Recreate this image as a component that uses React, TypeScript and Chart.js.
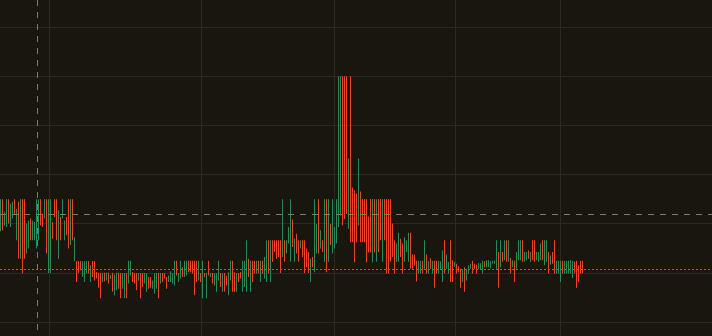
import { useEffect, useRef } from "react";
import { Chart, registerables } from "chart.js";

Chart.register(...registerables);

// ---- data (price units; one candle per session) ----
const OPEN = [
  19, 24.5, 20, 20, 24, 20, 21.5, 24.5, 17, 24,
  16, 24.5, 24.5, 14.5, 15.5, 21, 17, 17, 15.5, 17,
  24.5, 22, 21.5, 24.5, 12, 10.5, 20, 24.5, 24.5, 13,
  21, 21.5, 17, 21, 24.5, 16, 24.5, 12.8, 12.4, 12.4,
  12.4, 9.6, 9, 10.2, 12.4, 8.5, 12.4, 12.4, 10.2, 10,
  10, 8.5, 10, 8.8, 10, 8.9, 10, 6, 7, 10,
  10, 7, 5.5, 10, 8.5, 10, 10.2, 10, 9.8, 8.8,
  10, 9.8, 8.2, 6.5, 9.2, 9.2, 7, 6, 7, 10,
  8, 10, 10, 9.2, 8.4, 8.5, 8.2, 8, 12.4, 8.5,
  9.2, 11, 9.5, 9.8, 12.4, 12.4, 12.4, 12.4, 12.4, 9,
  10, 9, 10, 6, 12.4, 9.3, 10, 8, 6.5, 9,
  10, 6.5, 10, 9.4, 6, 9, 12.4, 10, 6.5, 10,
  10.2, 6.5, 7.5, 6.5, 12.8, 6.5, 12.4, 12.4, 10, 12.4,
  8.5, 12.4, 9, 8.5, 16.5, 8.5, 16.5, 16.5, 16.5, 16.5,
  16.5, 14, 16.5, 14.2, 16.2, 12.5, 20.5, 12.5, 17.8, 16.5,
  15.2, 16.5, 16.5, 14.8, 14, 8.5, 13, 12.4, 14.2, 24.8,
  15.2, 16.5, 12.5, 24.8, 12.5, 19.8, 14.3, 15.2, 16.2, 21,
  23, 50, 50, 50, 24, 50, 27, 26.5, 26, 20,
  26, 25, 25, 25, 21, 25, 12.5, 25, 12.5, 25,
  25, 12.5, 25, 25, 25, 25, 20, 16.5, 12.5, 12.8,
  16.8, 15.8, 12.5, 14.5, 12.5, 18, 13.5, 13.5, 12.5, 10,
  10.2, 12.4, 11, 13.6, 10, 12.8, 10, 12.4, 12.4, 10,
  11, 8.5, 16.5, 11, 10, 16.5, 12.5, 11.4, 11.8, 11.2,
  10.8, 8.5, 11, 8.8, 10, 11, 12.4, 11.8, 11.5, 10.9,
  10.9, 10, 12.3, 11.3, 11.3, 11.1, 12, 12, 11, 14,
  11.3, 14, 12.7, 16.5, 12.4, 13, 11.3, 12.4, 11, 12.7,
  12.7, 16.5, 12.4, 12.7, 14.5, 12.4, 16.5, 16.5, 12.7, 12.4,
  12.7, 16.5, 11.7, 12.4, 14.2, 11.8, 14.2, 16.5, 10, 10,
  10, 12.4, 10, 10, 10, 10, 9.2, 12.2, 12.4, 11.5, 12.4, 12.4,
];
const HIGH = [
  25, 25, 22.4, 25, 25, 24.1, 24.5, 25, 23.1, 24.5,
  25, 25, 25, 20.1, 20.7, 21.1, 20.7, 20.4, 25, 25,
  25, 22.1, 25, 25, 25, 25, 20.4, 25, 25, 22.8,
  21.4, 25, 20.7, 21.4, 25, 25, 25, 17.3, 12.4, 12.4,
  12.4, 12.4, 12.4, 12.4, 12.4, 11.6, 12.4, 12.4, 10.2, 10.1,
  10.1, 10.1, 10.1, 10.1, 10.1, 9.6, 10.1, 9.7, 10.1, 10.1,
  10, 10, 10, 10, 12.5, 12.5, 10.2, 10, 10, 10,
  10, 10, 10, 10, 9.2, 9.2, 8.5, 10, 10, 10,
  10, 10, 10, 9.2, 9.5, 10.4, 10, 12.5, 12.5, 10,
  12.5, 11.2, 12.5, 12.5, 12.5, 12.5, 12.5, 12.5, 12.5, 12.5,
  10, 12.5, 10, 10, 12.5, 10, 10, 10, 10, 12.5,
  10, 10, 10, 9.5, 10.2, 12.5, 12.5, 10.2, 10, 10,
  10.2, 12.5, 12.5, 16.7, 12.9, 12.5, 12.5, 12.5, 12.5, 12.5,
  12.5, 12.5, 13.3, 16.7, 16.7, 16.7, 16.7, 16.7, 16.7, 16.7,
  16.7, 25, 16.7, 16.7, 19.4, 25, 20.9, 17, 18, 16.7,
  16.7, 16.7, 16.7, 15, 14.3, 12.9, 13.3, 25, 20, 25,
  18.7, 16.7, 25, 25, 25, 20, 25, 19.4, 25, 50,
  50, 50, 50, 50, 33.3, 50, 27.4, 26.8, 26.2, 33.3,
  26.6, 25, 25, 25, 21.5, 25, 25, 25, 25, 25,
  25, 25, 25, 25, 25, 25, 20.1, 16.7, 16, 18.2,
  17, 16, 17.3, 16.7, 18.2, 18.2, 13.8, 13.8, 12.5, 12.5,
  12.5, 12.5, 16.7, 13.8, 12.5, 13, 12.5, 12.5, 12.5, 12.5,
  12.4, 14.6, 16.7, 13.8, 12.3, 16.7, 12.6, 12.3, 11.9, 11.4,
  10.9, 10.8, 11.2, 10.9, 11.6, 11.9, 12.5, 11.9, 11.7, 12,
  12, 12.5, 12.4, 12.6, 12.6, 12.4, 12.5, 12.5, 16.7, 14.3,
  16.7, 14.3, 16.7, 16.7, 16.7, 13.1, 12.6, 12.5, 14.3, 16.7,
  16.7, 16.7, 14.3, 14.3, 14.6, 14.3, 16.7, 16.7, 14.3, 14.3,
  16, 16.7, 16.7, 16.7, 14.3, 13.6, 14.3, 16.7, 12.5, 12.5,
  12.5, 12.5, 12.5, 12.5, 12.5, 12.6, 12.5, 12.3, 12.5, 11.6, 12.5, 12.5,
];
const LOW = [
  18.5, 18.7, 19.7, 19.4, 20.1, 19.4, 21.1, 21.8, 16.7, 12.9,
  12.9, 9.9, 12.9, 14, 15, 16.7, 16.7, 16.7, 15, 16.7,
  19.7, 19.4, 21.1, 14, 10, 10, 17, 21.4, 16.7, 12.9,
  16.7, 21.1, 16.7, 17.7, 15, 15.7, 16.7, 12.4, 8.2, 10,
  10.6, 9.2, 8.2, 9.9, 9.9, 8.2, 9.2, 8.5, 8.9, 7,
  4.9, 8.2, 8.3, 8.5, 7.9, 8.8, 6.2, 5.5, 6.5, 6.8,
  4.9, 6.8, 4.9, 4.9, 7.9, 9.5, 8.2, 7.9, 6.5, 8.5,
  4.9, 7.2, 7.9, 6.2, 6.8, 7, 6.8, 5.8, 6.8, 4.9,
  7.9, 8.2, 8.9, 6.8, 8.2, 8.2, 7.9, 7.5, 9.5, 8.2,
  8.9, 9.2, 9.2, 9.5, 10.2, 10.2, 9.9, 5.5, 8.2, 8.5,
  8.2, 4.9, 9.2, 4.9, 9.5, 9.2, 7.9, 7.5, 6.2, 8.5,
  7.2, 6.2, 6.2, 7.5, 5.5, 8.5, 6.2, 6.2, 6.2, 8.2,
  8.9, 6.2, 7.2, 6.2, 9.2, 6.2, 8.2, 9.9, 9.9, 9.9,
  8.2, 9.9, 8.9, 8.2, 9.9, 8.2, 12.3, 14.3, 12.9, 13.3,
  10, 13.3, 12.3, 14, 16, 12.3, 15.3, 12.3, 14, 12.3,
  15, 13.3, 10, 11.2, 10, 8.2, 11.2, 10.2, 14, 14,
  15, 14.3, 12.3, 10.2, 12.3, 15.7, 14, 15, 16, 19.4,
  21.7, 19.7, 21, 22, 19, 16.3, 16.3, 12.2, 16.3, 19.7,
  16.3, 16.3, 16.3, 12.2, 14.2, 14.2, 12.2, 14.2, 12.3, 14.3,
  16.7, 12.3, 16.7, 9.9, 9.9, 12.3, 13.3, 9.9, 12.3, 12.3,
  13.3, 9.9, 12.3, 14.3, 12.3, 10.9, 10.9, 11.5, 8.3, 9.9,
  9.9, 9.9, 10.9, 9.9, 9.9, 10.9, 9.9, 7, 9.9, 9.9,
  10.9, 8.2, 9.9, 10.9, 9.9, 8.2, 8.2, 11.3, 9.9, 10.2,
  7, 8.2, 6.2, 8.5, 9.9, 10.9, 9.9, 10.9, 9.9, 10.8,
  10.8, 9.9, 11.2, 11.2, 11.2, 11, 11.9, 11.9, 10.9, 7,
  11.2, 12.3, 12.6, 12.3, 12.3, 9.9, 11.2, 8.2, 10.9, 12.6,
  12.6, 12.3, 12.3, 12.6, 12.9, 12.3, 12.6, 12.3, 12.6, 12.3,
  12.6, 12.6, 11.6, 12.3, 9.9, 11.7, 11.9, 9.9, 9.9, 9.9,
  8.2, 9.9, 9.9, 9.9, 9.9, 9.9, 9, 9.9, 7, 8.2, 9.9, 9.9,
];
const CLOSE = [
  24, 19.5, 22, 24.5, 20.5, 23.5, 24, 22, 22.5, 16.7,
  24.5, 12.9, 13, 19.5, 20.5, 17, 20.5, 20, 24.5, 24.5,
  20, 19.5, 24.5, 14.5, 24.5, 24.5, 17.5, 21.5, 17, 22.5,
  17, 24.5, 20.5, 18, 15.5, 24.5, 17, 16.7, 10.5, 10.8,
  11, 12.2, 12, 12.4, 10.5, 11.2, 9.5, 9, 9.2, 7.5,
  6.5, 10, 8.5, 10, 8.2, 9.5, 6.8, 9.5, 10, 7.2,
  6, 9.8, 9.8, 5.5, 12.2, 12.4, 8.5, 8.5, 7, 10,
  5.5, 7.5, 10, 9.8, 7, 7.2, 8.2, 9.5, 9.8, 5.5,
  10, 8.5, 9, 7, 9.4, 10.2, 10, 12.2, 9.8, 10,
  12.4, 9.4, 12.4, 12.4, 10.4, 10.4, 10.2, 9.5, 9, 12.4,
  8.5, 12.4, 9.4, 9.8, 9.8, 10, 8.2, 10, 9.8, 12.4,
  7.5, 9.8, 6.5, 7.8, 10, 12.4, 7, 6.5, 9.8, 8.5,
  9, 12.4, 12.4, 16.5, 9.5, 12.4, 8.5, 10, 12.4, 10,
  12.4, 10, 13, 16.5, 10.2, 16.5, 12.5, 14.5, 13, 13.5,
  12.4, 16.7, 12.5, 16.5, 16.7, 16.7, 15.5, 16.7, 14.3, 12.5,
  16.5, 13.5, 12.4, 11.5, 12.4, 12.4, 11.5, 16.7, 16.7, 16.7,
  16.7, 14.5, 16.7, 12.4, 24.8, 16, 24.8, 19.2, 24.8, 48,
  50, 24.8, 24.8, 25, 26, 18, 22, 16.7, 16.7, 25,
  17, 16.7, 16.7, 13, 15, 15, 25, 16.7, 24.5, 15,
  17, 25, 18.7, 12.3, 12.3, 13, 13.5, 11, 15.5, 18,
  13.5, 11, 17, 16.5, 18, 12.5, 11.2, 11.8, 10, 12.3,
  12.4, 10.2, 16.5, 10.2, 12.4, 11.2, 12.4, 10, 10, 12.4,
  12.2, 14.3, 10.2, 13.5, 12, 8.5, 8.5, 12, 10.2, 10.4,
  7.5, 10.6, 6.5, 10.6, 11.4, 11.8, 10.2, 11, 10.2, 11.8,
  11.9, 12.4, 11.4, 12.4, 12.5, 12.2, 12.4, 12.4, 16.5, 12.4,
  16.5, 12.5, 16.5, 12.6, 16.5, 10.2, 12.4, 10, 14, 16.5,
  16.5, 12.6, 14, 14, 13, 14.2, 13, 12.6, 14.2, 14,
  15.8, 13, 16.5, 16.5, 12.4, 13.4, 12.2, 12.4, 12.4, 12.4,
  12.4, 10, 12.4, 12.4, 12.4, 12.5, 12.4, 10.2, 10, 9, 10, 10.8,
];

// period (month) boundaries on the time axis, in candle index units
const PERIOD_BOUNDARIES = [24.5, 100.5, 167, 227.5, 280];
// horizontal price grid levels
const PRICE_GRID = [0, 10, 20, 30, 40, 50, 60];
// crosshair position (candle index, price)
const CROSSHAIR_INDEX = 18.25;
const CROSSHAIR_PRICE = 21.95;
// visible window
const SLOT_MIN = -0.25;
const SLOT_MAX = 355.75;
const PRICE_MIN = -2.79;
const PRICE_MAX = 65.55;

const BG = "#19160f";
const GRID = "#2d2920";
const UP = "#2b8a58";
const DOWN = "#ee4329";
const CROSS = "#85786a";

export default function App() {
  const ref = useRef<HTMLCanvasElement | null>(null);

  useEffect(() => {
    const canvas = ref.current;
    if (!canvas) return;
    const n = CLOSE.length;
    const idx = Array.from({ length: n }, (_, i) => i);
    const colors = idx.map((i) => (CLOSE[i] >= OPEN[i] ? UP : DOWN));
    const wicks = idx.map((i) => ({ x: i, y: [LOW[i], HIGH[i]] }));
    const bodies = idx.map((i) => ({
      x: i,
      y: [Math.min(OPEN[i], CLOSE[i]), Math.max(OPEN[i], CLOSE[i])],
    }));
    const lastClose = CLOSE[n - 1];
    const lastColor = colors[n - 1];

    const overlay = {
      id: "overlay",
      beforeDraw(chart: any) {
        const { ctx, width, height } = chart;
        ctx.save();
        ctx.fillStyle = BG;
        ctx.fillRect(0, 0, width, height);
        ctx.restore();
      },
      afterDatasetsDraw(chart: any) {
        const { ctx, width, height } = chart;
        const xs = chart.scales.x;
        const ys = chart.scales.y;
        ctx.save();
        ctx.lineWidth = 1;
        // last price line
        const ly = Math.round(ys.getPixelForValue(lastClose)) + 0.5;
        ctx.strokeStyle = lastColor;
        ctx.setLineDash([2, 2]);
        ctx.beginPath();
        ctx.moveTo(0, ly);
        ctx.lineTo(width, ly);
        ctx.stroke();
        // crosshair
        ctx.strokeStyle = CROSS;
        ctx.setLineDash([6, 6]);
        const cy = Math.floor(ys.getPixelForValue(CROSSHAIR_PRICE)) + 0.5;
        ctx.beginPath();
        ctx.moveTo(0, cy);
        ctx.lineTo(width, cy);
        ctx.stroke();
        const cx = Math.round(xs.getPixelForValue(CROSSHAIR_INDEX)) + 0.5;
        ctx.beginPath();
        ctx.moveTo(cx, 0);
        ctx.lineTo(cx, height);
        ctx.stroke();
        ctx.restore();
      },
    };

    const chart = new Chart(canvas, {
      type: "bar",
      data: {
        datasets: [
          {
            label: "wick",
            data: wicks as any,
            backgroundColor: colors,
            barThickness: 1,
            borderWidth: 0,
            inflateAmount: 0,
            grouped: false,
          } as any,
          {
            label: "body",
            data: bodies as any,
            backgroundColor: colors,
            barThickness: 1,
            borderWidth: 0,
            inflateAmount: 0,
            grouped: false,
          } as any,
        ],
      },
      options: {
        responsive: false,
        devicePixelRatio: 1,
        animation: false,
        events: [],
        layout: { padding: 0 },
        plugins: {
          legend: { display: false },
          tooltip: { enabled: false },
          title: { display: false },
        },
        scales: {
          x: {
            type: "linear",
            min: SLOT_MIN,
            max: SLOT_MAX,
            offset: false,
            grid: { color: GRID, offset: false, drawTicks: false, lineWidth: 1 },
            border: { display: false },
            ticks: { display: false },
            afterBuildTicks: (scale: any) => {
              scale.ticks = PERIOD_BOUNDARIES.map((v) => ({ value: v }));
            },
          },
          y: {
            type: "linear",
            min: PRICE_MIN,
            max: PRICE_MAX,
            grid: { color: GRID, drawTicks: false, lineWidth: 1 },
            border: { display: false },
            ticks: { display: false },
            afterBuildTicks: (scale: any) => {
              scale.ticks = PRICE_GRID.map((v) => ({ value: v }));
            },
          },
        },
      } as any,
      plugins: [overlay],
    });

    return () => chart.destroy();
  }, []);

  return (
    <div style={{ position: "fixed", left: 0, top: 0, width: 712, height: 336, background: BG }}>
      <canvas ref={ref} width={712} height={336} style={{ display: "block" }} />
    </div>
  );
}
